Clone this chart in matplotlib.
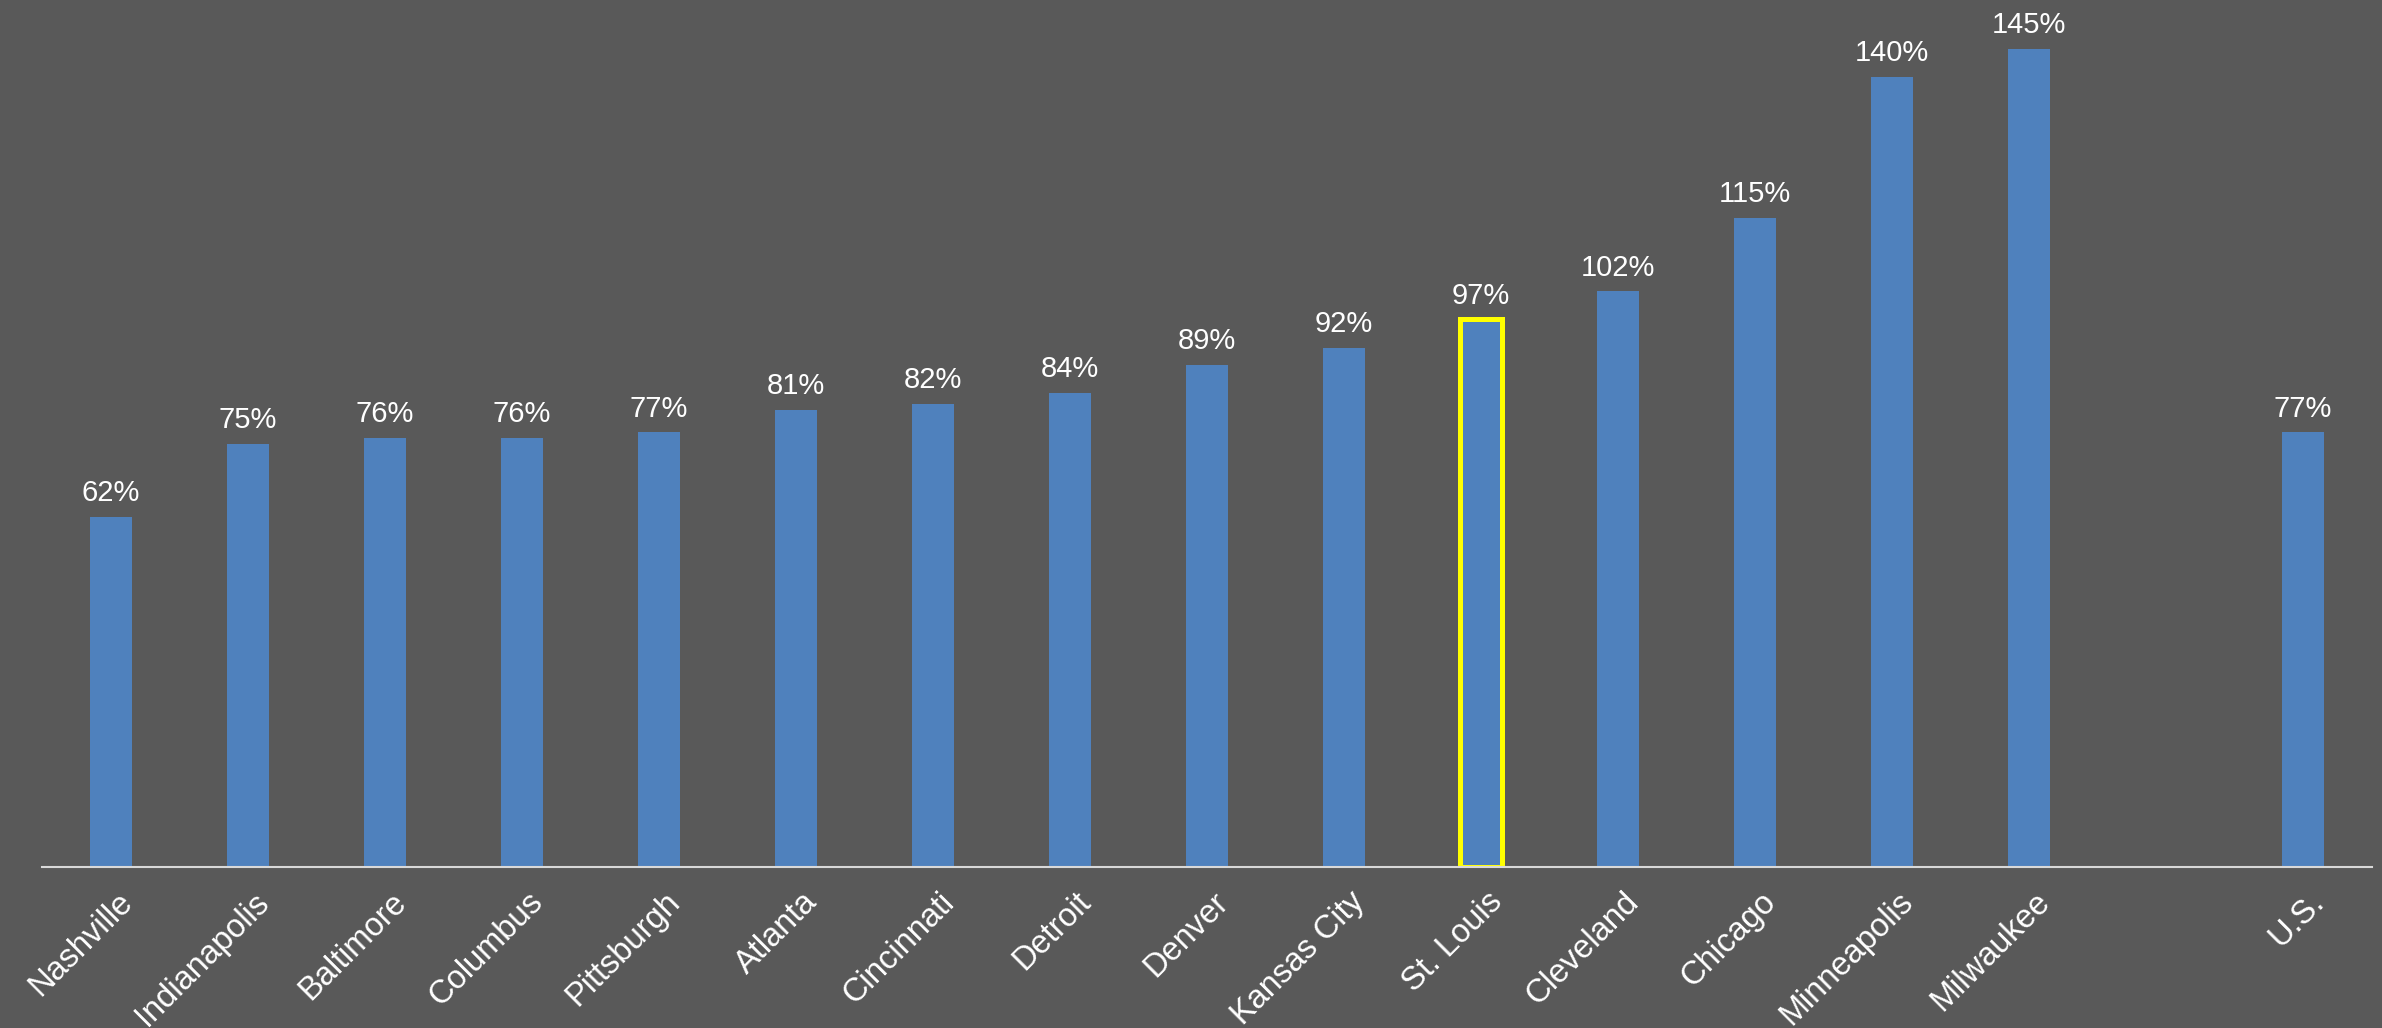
import matplotlib.pyplot as plt
from matplotlib.transforms import ScaledTranslation

cities = ["Nashville", "Indianapolis", "Baltimore", "Columbus", "Pittsburgh",
          "Atlanta", "Cincinnati", "Detroit", "Denver", "Kansas City",
          "St. Louis", "Cleveland", "Chicago", "Minneapolis", "Milwaukee",
          "", "U.S."]
values = [62, 75, 76, 76, 77, 81, 82, 84, 89, 92, 97, 102, 115, 140, 145,
          None, 77]
highlight = "St. Louis"

bg = "#595959"
bar_color = "#4F81BD"

plt.rcParams["font.family"] = ["Liberation Sans", "DejaVu Sans"]

fig = plt.figure(figsize=(23.82, 10.28), dpi=100, facecolor=bg)
ax = fig.add_axes([0.0178, 0.1566, 0.9778, 0.8434])
ax.set_facecolor(bg)

for i, (name, v) in enumerate(zip(cities, values)):
    if v is None:
        continue
    if name == highlight:
        ax.bar(i, v, width=0.31, color=bar_color, edgecolor="#FFFF00",
               linewidth=3.6, zorder=3)
    else:
        ax.bar(i, v, width=0.31, color=bar_color, zorder=2)
    ax.annotate(f"{v}%", (i, v), xytext=(0, 7), textcoords="offset points",
                ha="center", va="bottom", color="white", fontsize=21)

ax.set_xlim(-0.5, len(cities) - 0.5)
ax.set_ylim(0, 153.6)
ax.set_yticks([])
ax.set_xticks(range(len(cities)))
ax.set_xticklabels(cities, rotation=45, ha="right", rotation_mode="anchor",
                   color="white", fontsize=23.5)
ax.tick_params(axis="x", length=0, pad=14)
# nudge the rotated labels so their ends sit just right of the bar centre
shift = ScaledTranslation(4 / 72, 0, fig.dpi_scale_trans)
for lbl in ax.get_xticklabels():
    lbl.set_transform(lbl.get_transform() + shift)

for side in ["top", "right", "left"]:
    ax.spines[side].set_visible(False)
ax.spines["bottom"].set_color("#D9D9D9")
ax.spines["bottom"].set_linewidth(1.5)
ax.spines["bottom"].set_zorder(4)

fig.savefig("out.png", dpi=100, facecolor=bg)
